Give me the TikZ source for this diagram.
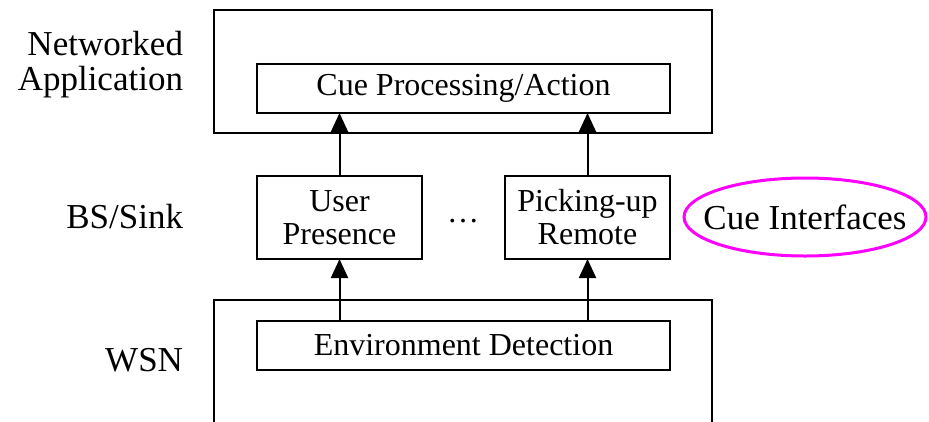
\documentclass[tikz,border=0pt]{standalone}
\usepackage{fontspec}
\setmainfont{Liberation Serif}
\usetikzlibrary{arrows.meta}
\definecolor{cuemagenta}{RGB}{255,0,255}
\begin{document}
\begin{tikzpicture}[x=1pt,y=-1pt,
  every node/.style={font=\fontsize{32}{33}\selectfont, inner sep=0pt, outer sep=0pt},
  box/.style={draw, line width=2pt, align=center},
  widebox/.style={box, minimum width=413pt, minimum height=49pt},
  cuebox/.style={box, minimum width=165pt, minimum height=83pt},
  layer/.style={draw, line width=2pt},
  lbl/.style={anchor=east, align=right, font=\fontsize{35}{35}\selectfont},
  arr/.style={line width=2pt, -{Triangle[width=17pt,length=19pt]}},
  cue/.style={draw=cuemagenta, line width=3pt}]
\useasboundingbox (0,0) rectangle (929,421);

% application layer frame
\node[layer, minimum width=498pt, minimum height=123pt] (app) at (463,71.5) {};
% sensor network layer frame, open at the bottom
\coordinate (wsnL) at (214,425);
\coordinate (wsnR) at (712,425);
\draw[line width=2pt] (wsnL) -- (214,300) -- (712,300) -- (wsnR);

% functional blocks
\node[widebox] (proc) at (463.5,88.5) {Cue Processing/Action};
\node[cuebox] (user) at (339.5,217.5) {User\\Presence};
\node[cuebox] (pick) at (587.5,217.5) {Picking-up\\Remote};
\node[widebox] (env) at (463.5,345.5) {Environment Detection};
\node (dots) at (463,221) {\dots};

% data flow
\draw[arr] (env.north -| user) -- (user.south);
\draw[arr] (env.north -| pick) -- (pick.south);
\draw[arr] (user.north) -- (proc.south -| user);
\draw[arr] (pick.north) -- (proc.south -| pick);

% layer labels
\node[lbl] (lapp) at (183,65) {Networked\\Application};
\node[lbl] (lbs) at (183,217) {BS/Sink};
\node[lbl] (lwsn) at (183,360) {WSN};

% highlighted interface label
\node[font=\fontsize{35}{35}\selectfont] (iface) at (805,217) {Cue Interfaces};
\draw[cue] (iface.center) ellipse [x radius=121, y radius=39];
\end{tikzpicture}
\end{document}
